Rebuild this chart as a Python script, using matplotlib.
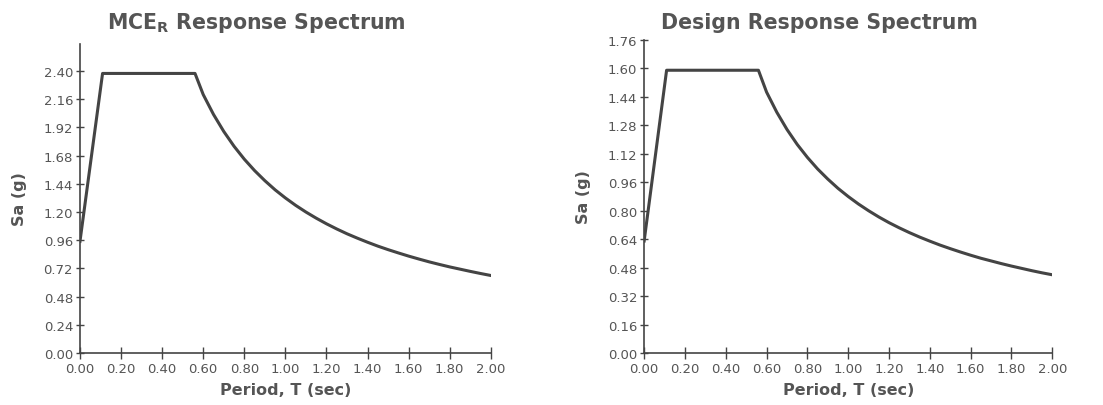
import matplotlib
matplotlib.use("Agg")
from matplotlib import pyplot as plt

# periods (sec) and spectral accelerations (g)
period = [0.00, 0.11, 0.56, 0.60, 0.65, 0.70, 0.75, 0.80, 0.85, 0.90, 0.95,
          1.00, 1.05, 1.10, 1.15, 1.20, 1.25, 1.30, 1.35, 1.40, 1.45, 1.50,
          1.55, 1.60, 1.65, 1.70, 1.75, 1.80, 1.85, 1.90, 1.95, 2.00]
sa_mce = [0.950, 2.380, 2.380, 2.200, 2.031, 1.886, 1.760, 1.650, 1.553, 1.467,
          1.389, 1.320, 1.257, 1.200, 1.148, 1.100, 1.056, 1.015, 0.978, 0.943,
          0.910, 0.880, 0.852, 0.825, 0.800, 0.776, 0.754, 0.733, 0.714, 0.695,
          0.677, 0.660]
sa_design = [0.630, 1.590, 1.590, 1.467, 1.354, 1.257, 1.173, 1.100, 1.035, 0.978,
             0.926, 0.880, 0.838, 0.800, 0.765, 0.733, 0.704, 0.677, 0.652, 0.629,
             0.607, 0.587, 0.568, 0.550, 0.533, 0.518, 0.503, 0.489, 0.476, 0.463,
             0.451, 0.440]

x_ticks = [0.0, 0.2, 0.4, 0.6, 0.8, 1.0, 1.2, 1.4, 1.6, 1.8, 2.0]
y_ticks_mce = [0.00, 0.24, 0.48, 0.72, 0.96, 1.20, 1.44, 1.68, 1.92, 2.16, 2.40]
y_ticks_design = [0.00, 0.16, 0.32, 0.48, 0.64, 0.80, 0.96, 1.12, 1.28, 1.44, 1.60, 1.76]

text_col = '#555555'
line_col = '#444444'

fig = plt.figure(figsize=(11.03, 4.06), dpi=100)
ax1 = fig.add_axes([0.0725, 0.128, 0.3725, 0.761])
ax2 = fig.add_axes([0.584, 0.128, 0.370, 0.771])


def style(ax, sa, yticks, ytop):
    ax.plot(period, sa, color=line_col, linewidth=2.2, solid_joinstyle='round')
    ax.set_xlim(0, 2.0)
    ax.set_ylim(0, ytop)
    ax.set_xticks(x_ticks)
    ax.set_xticklabels(['%.2f' % t for t in x_ticks])
    ax.set_yticks(yticks)
    ax.set_yticklabels(['%.2f' % t for t in yticks])
    for s in ['top', 'right']:
        ax.spines[s].set_visible(False)
    for s in ['left', 'bottom']:
        ax.spines[s].set_color(line_col)
        ax.spines[s].set_linewidth(1.2)
    ax.tick_params(direction='inout', width=1.0, color=line_col,
                   labelsize=9.5, labelcolor=text_col, pad=2)
    ax.tick_params(axis='x', length=9)
    ax.tick_params(axis='y', length=6)
    ax.set_xlabel('Period, T (sec)', fontsize=11.5, fontweight='bold',
                  color=text_col, labelpad=5)
    ax.set_ylabel('Sa (g)', fontsize=11.5, fontweight='bold', color=text_col,
                  labelpad=12)


style(ax1, sa_mce, y_ticks_mce, 2.63)
style(ax2, sa_design, y_ticks_design, 1.76)

fig.text(256 / 1103, 1 - 23 / 406, r'MCE$_\mathbf{R}$ Response Spectrum',
         ha='center', va='center', fontsize=14.8, fontweight='bold', color=text_col)
fig.text(819 / 1103, 1 - 23 / 406, 'Design Response Spectrum',
         ha='center', va='center', fontsize=14.8, fontweight='bold', color=text_col)

fig.savefig('out.png', dpi=100)
